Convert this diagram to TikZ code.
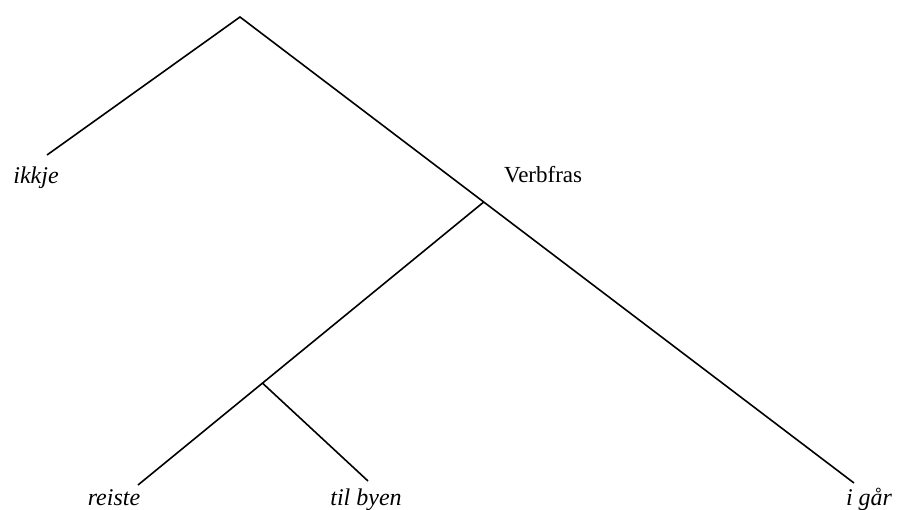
\documentclass[tikz,border=0pt]{standalone}
\usepackage{fontspec}
\setmainfont{Liberation Serif}
\usetikzlibrary{calc}
\begin{document}
\begin{tikzpicture}[x=1pt,y=-1pt,
  branch/.style={line width=1.6pt},
  leaf/.style={font=\fontsize{24}{28}\selectfont\itshape, anchor=base, inner sep=0pt},
  cat/.style={font=\fontsize{23}{28}\selectfont, anchor=base west, inner sep=0pt}]
\useasboundingbox (0,0) rectangle (897,509);
\coordinate (top) at (240,17);
\coordinate (ikkjeEnd) at (47,155);
\coordinate (igarEnd) at (854,483);
\coordinate (vp) at ($(top)!0.397!(igarEnd)$);
\coordinate (reisteEnd) at (138,485);
\coordinate (mid) at ($(vp)!0.64!(reisteEnd)$);
\coordinate (tilEnd) at (368,481);
\draw[branch] (ikkjeEnd) -- (top) -- (igarEnd);
\draw[branch] (vp) -- (reisteEnd);
\draw[branch] (mid) -- (tilEnd);
\node[leaf] (ikkje) at (36,183) {ikkje};
\node[cat] (verbfras) at (504,182) {Verbfras};
\node[leaf] (reiste) at (114,505) {reiste};
\node[leaf] (tilbyen) at (366,505) {til byen};
\node[leaf] (igar) at (869,505) {i går};
\end{tikzpicture}
\end{document}
